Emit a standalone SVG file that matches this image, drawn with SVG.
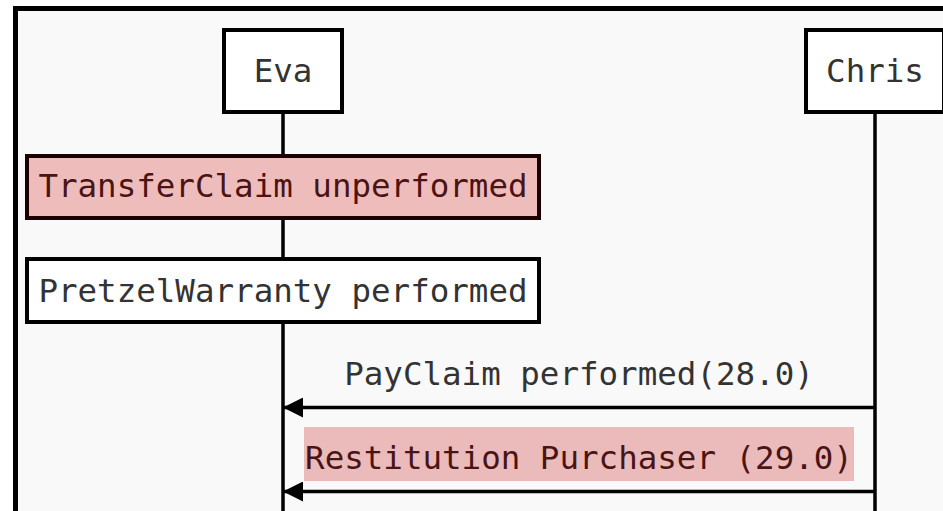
<svg xmlns="http://www.w3.org/2000/svg" width="943" height="511" viewBox="0 0 943 511">
<defs>
<style>
text{font-family:"DejaVu Sans Mono","Liberation Mono",monospace;font-size:32.5px;fill:#333;}
.box{fill:#fff;stroke:#000;stroke-width:4;}
.bad{fill:#efbcbc;stroke:#1a0000;stroke-width:4;}
.badt{fill:#4a1414;}
.life{stroke:#000;stroke-width:3.5;fill:none;}
.msg{stroke:#000;stroke-width:3.5;fill:none;marker-end:url(#ah);}
</style>
<marker id="ah" viewBox="0 0 20 20" refX="20" refY="10" markerWidth="20" markerHeight="20" markerUnits="userSpaceOnUse" orient="auto">
<path d="M0,0 L20,10 L0,20 Z" fill="#000"/>
</marker>
</defs>
<rect x="0" y="0" width="943" height="511" fill="#fff"/>
<rect x="15.5" y="8.5" width="1000" height="600" fill="#f9f9f9" stroke="#000" stroke-width="5"/>
<g id="lifelines">
<line class="life" x1="283" y1="114" x2="283" y2="511"/>
<line class="life" x1="875" y1="114" x2="875" y2="511"/>
</g>
<g id="eva">
<rect class="box" x="224" y="30" width="118" height="82"/>
<text x="283" y="82" text-anchor="middle">Eva</text>
</g>
<g id="chris">
<rect class="box" x="806" y="30" width="138" height="82"/>
<text x="875" y="82" text-anchor="middle">Chris</text>
</g>
<g id="transferclaim">
<rect class="bad" x="27" y="156" width="512" height="62"/>
<text class="badt" x="283" y="197" text-anchor="middle">TransferClaim unperformed</text>
</g>
<g id="pretzelwarranty">
<rect class="box" x="27" y="259" width="512" height="63"/>
<text x="283" y="302" text-anchor="middle">PretzelWarranty performed</text>
</g>
<g id="connectors">
<line class="msg" x1="875" y1="407.5" x2="283" y2="407.5"/>
<text x="579" y="385" text-anchor="middle">PayClaim performed(28.0)</text>
<rect x="304" y="427" width="550" height="54" fill="#ebbaba"/>
<text class="badt" x="579" y="469" text-anchor="middle">Restitution Purchaser (29.0)</text>
<line class="msg" x1="875" y1="491.5" x2="283" y2="491.5"/>
</g>
</svg>
